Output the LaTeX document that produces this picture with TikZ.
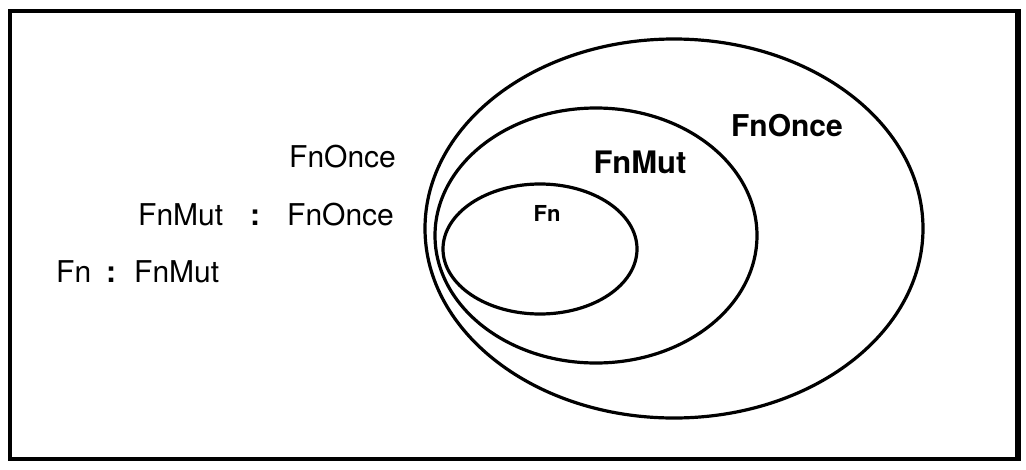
\documentclass[tikz,border=0pt]{standalone}
\usepackage{fontspec}
\setmainfont{TeX Gyre Heros}
\begin{document}
\begin{tikzpicture}[x=1pt,y=-1pt,
  setline/.style={line width=3.2pt,black},
  plain/.style={inner sep=0pt,font=\fontsize{30}{36}\selectfont},
  setlabel/.style={inner sep=0pt,font=\bfseries\fontsize{30}{36}\selectfont}]
\useasboundingbox (0,0) rectangle (1026,469);
% frame
\draw[line width=4pt] (10,11) rectangle (1018,459);
\draw[line width=5.5pt] (1018,9) -- (1018,461);
% sets
\draw[setline] (674,228.5) ellipse [x radius=249pt, y radius=189.5pt];
\draw[setline] (596,235.5) ellipse [x radius=161pt, y radius=127.5pt];
\draw[setline] (540,249) ellipse [x radius=97pt, y radius=65pt];
% set labels
\node[setlabel] (lonce) at (787,126) {FnOnce};
\node[setlabel,font=\bfseries\fontsize{31}{37}\selectfont] (lmut) at (640,162) {FnMut};
\node[setlabel,font=\bfseries\fontsize{22}{26}\selectfont] (lfn) at (547,213) {Fn};
% relation texts
\node[plain,anchor=west] (t1) at (289,157) {FnOnce};
\node[plain,anchor=west] (t2) at (138,215) {FnMut\hspace{27pt}{\bfseries :}\hspace{27pt}FnOnce};
\node[plain,anchor=west] (t3) at (56,272) {Fn\hspace{15pt}{\bfseries :}\hspace{18pt}FnMut};
\end{tikzpicture}
\end{document}
